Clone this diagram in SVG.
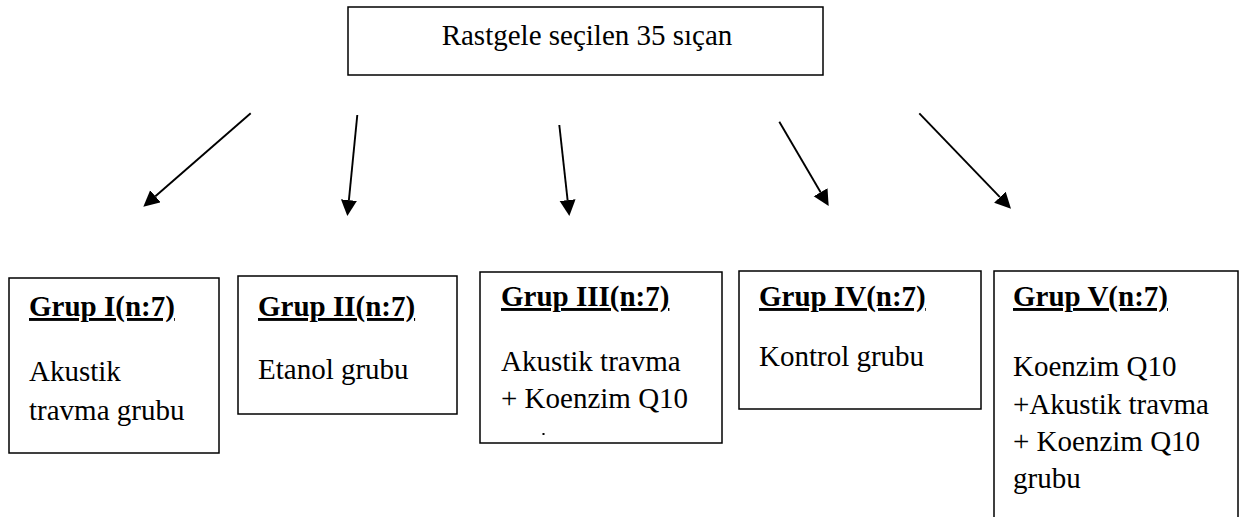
<svg xmlns="http://www.w3.org/2000/svg" width="1240" height="517" viewBox="0 0 1240 517">
<style>
  .box{fill:#fff;stroke:#000;stroke-width:1.5}
  .t{font-family:"Liberation Serif","Times New Roman",serif;font-size:29px;fill:#000}
  .h{font-family:"Liberation Serif","Times New Roman",serif;font-size:29px;font-weight:bold;fill:#000;text-decoration:underline}
  .c{stroke:#000;stroke-width:1.9;fill:none}
</style>
<defs>
  <marker id="ah" markerUnits="userSpaceOnUse" markerWidth="17" markerHeight="17" refX="0" refY="8" orient="auto">
    <path d="M0,0 L16,8 L0,16 z" fill="#000"/>
  </marker>
</defs>
<rect width="1240" height="517" fill="#fff"/>
<g id="root">
  <rect class="box" x="348" y="7" width="475" height="68"/>
  <text class="t" x="587" y="45" text-anchor="middle">Rastgele seçilen 35 sıçan</text>
</g>
<g id="connectors">
  <line class="c" x1="250.7" y1="113.3" x2="155.4" y2="196.2" marker-end="url(#ah)"/>
  <line class="c" x1="357.3" y1="115" x2="348.9" y2="200.1" marker-end="url(#ah)"/>
  <line class="c" x1="559.3" y1="125" x2="567.6" y2="200.1" marker-end="url(#ah)"/>
  <line class="c" x1="779.3" y1="121.7" x2="820.6" y2="192.2" marker-end="url(#ah)"/>
  <line class="c" x1="919.3" y1="113.3" x2="999.9" y2="197.2" marker-end="url(#ah)"/>
</g>
<g id="grup1">
  <rect class="box" x="9" y="278" width="210" height="175"/>
  <text class="h" x="29" y="316">Grup I(n:7)</text>
  <text class="t" x="29" y="381">Akustik</text>
  <text class="t" x="29" y="420">travma grubu</text>
</g>
<g id="grup2">
  <rect class="box" x="238" y="276" width="219" height="138"/>
  <text class="h" x="258" y="316">Grup II(n:7)</text>
  <text class="t" x="258" y="379">Etanol grubu</text>
</g>
<g id="grup3">
  <rect class="box" x="480" y="272" width="242" height="171"/>
  <text class="h" x="501" y="306">Grup III(n:7)</text>
  <text class="t" x="501" y="371">Akustik travma</text>
  <text class="t" x="501" y="408">+ Koenzim Q10</text>
  <rect x="542.5" y="433" width="2" height="2" fill="#000"/>
</g>
<g id="grup4">
  <rect class="box" x="739" y="271" width="242" height="138"/>
  <text class="h" x="759" y="306">Grup IV(n:7)</text>
  <text class="t" x="759" y="366">Kontrol grubu</text>
</g>
<g id="grup5">
  <rect class="box" x="994" y="271" width="244" height="260"/>
  <text class="h" x="1013" y="306">Grup V(n:7)</text>
  <text class="t" x="1013" y="376">Koenzim Q10</text>
  <text class="t" x="1013" y="414">+Akustik travma</text>
  <text class="t" x="1013" y="451">+ Koenzim Q10</text>
  <text class="t" x="1013" y="488">grubu</text>
</g>
</svg>
